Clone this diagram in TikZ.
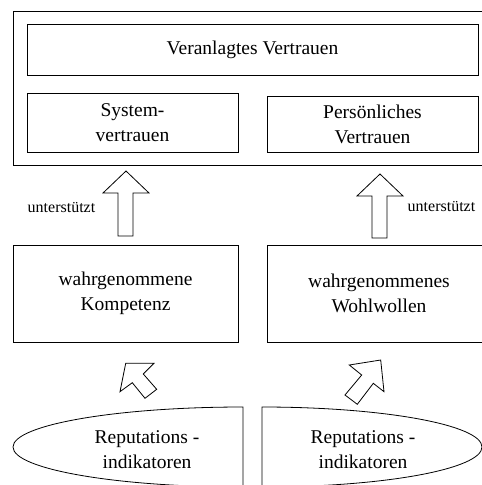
\documentclass[tikz,border=0pt]{standalone}
\usepackage{fontspec}
\setmainfont{Liberation Serif}
\begin{document}
\begin{tikzpicture}[x=1pt,y=-1pt,
  every node/.style={inner sep=0pt, outer sep=0pt},
  txt/.style={align=center, font=\fontsize{19.5}{25}\selectfont},
  smalltxt/.style={font=\fontsize{16}{19}\selectfont},
  boxed/.style={draw=black, line width=0.8pt, rectangle, txt},
  blockarrow/.style={draw=black, fill=white, line width=0.8pt, line join=miter},
  shapeline/.style={draw=black, line width=0.8pt}]
\clip (0,0) rectangle (482,485);
\fill[white] (0,0) rectangle (482,485);
% outer frame and top boxes
\node[boxed, minimum width=479pt, minimum height=154pt] (outer) at (252.5,88) {};
\node[boxed, minimum width=451pt, minimum height=51pt] (veranl) at (252.5,49.5) {Veranlagtes Vertrauen};
\node[boxed, minimum width=211pt, minimum height=59pt] (system) at (132.5,122.5) {System-\\vertrauen};
\node[boxed, minimum width=211pt, minimum height=56pt] (pers) at (372.5,124) {Persönliches\\Vertrauen};
% middle boxes
\node[boxed, minimum width=225pt, minimum height=97pt] (komp) at (125.5,293.5) {wahrgenommene\\Kompetenz};
\node[boxed, minimum width=224pt, minimum height=97pt] (wohl) at (379,293.5) {wahrgenommenes\\Wohlwollen};
% up arrows
\draw[blockarrow] (126,171) -- (149,193) -- (133,193) -- (133,236) -- (118,236) -- (118,193) -- (103,193) -- cycle;
\draw[blockarrow] (380,174) -- (403,196) -- (387,196) -- (387,238) -- (372,238) -- (372,196) -- (357,196) -- cycle;
\node[smalltxt] (lab1) at (61.5,208) {unterstützt};
\node[smalltxt] (lab2) at (441.5,207) {unterstützt};
% diagonal arrows
\draw[blockarrow] (125.7,363.3) -- (154,363.3) -- (143.3,374) -- (156.7,389.3) -- (145,398.3) -- (132.3,382.7) -- (120,391.7) -- cycle;
\draw[blockarrow] (380.7,360) -- (384,391.7) -- (373.3,383.3) -- (357.3,404.3) -- (345,395) -- (361.7,375) -- (349.3,365) -- cycle;
% half ellipses
\draw[shapeline] (243,407) arc[start angle=270, end angle=90, x radius=230, y radius=40] -- cycle;
\draw[shapeline] (262,407) arc[start angle=-90, end angle=90, x radius=220, y radius=40] -- cycle;
\node[txt] (rep1) at (147,449.5) {Reputations -\\indikatoren};
\node[txt] (rep2) at (363,449.5) {Reputations -\\indikatoren};
\end{tikzpicture}
\end{document}
